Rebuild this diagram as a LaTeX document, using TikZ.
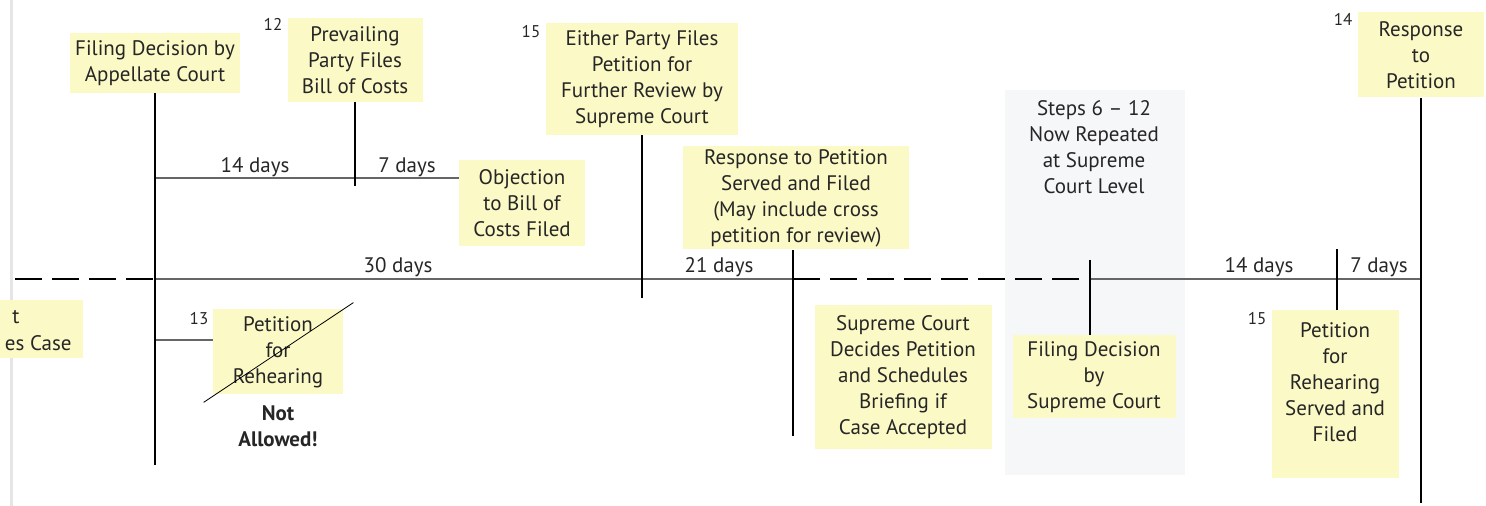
\documentclass[tikz,border=0pt]{standalone}
\usepackage{fontspec}
\setmainfont{PT Sans}
\usetikzlibrary{positioning}
\definecolor{notepad}{HTML}{FBF9C6}
\definecolor{panel}{HTML}{F6F7F9}
\definecolor{track}{HTML}{666666}
\newcommand{\textsz}{\fontsize{10.5}{13}\selectfont}

\begin{document}
\begin{tikzpicture}[x=0.5pt, y=-0.5pt,
  every node/.style={font=\textsz, text=black!85},
  note/.style={fill=notepad, align=center, inner sep=0pt},
  stepno/.style={font=\fontsize{8.5}{10}\selectfont},
  tick/.style={line width=1.4pt},
  track/.style={draw=track, line width=0.9pt},
  branch/.style={draw=track, line width=0.6pt},
  gap/.style={line width=1.4pt, dash pattern=on 13.5pt off 5pt}]
\useasboundingbox (0,0) rectangle (1486,506);
\draw[black!10, line width=1.5pt] (11,0) -- (11,506);
\fill[panel] (1005,90) rectangle (1185,475);

% appellate court level
\node[note, minimum width=41.5pt, minimum height=29pt] (trial) at (41.5,329) {};
\node[anchor=east, inner sep=0pt] (trialA) at (20,317) {t};
\node[anchor=east, inner sep=0pt] (trialB) at (72,343) {es Case};
\node[note, minimum width=85pt, minimum height=30pt] (fdac) at (155,63) {Filing Decision by\\Appellate Court};
\node[note, minimum width=67.5pt, minimum height=42pt] (bill) at (355,60) {Prevailing\\Party Files\\Bill of Costs};
\node[note, minimum width=63pt, minimum height=43pt] (objection) at (522,203) {Objection\\to Bill of\\Costs Filed};
\node[note, minimum width=65pt, minimum height=42.5pt] (rehear) at (278,352) {Petition\\for\\Rehearing};
\node[align=center, font=\textsz\bfseries] (denied) at (278,426) {Not\\Allowed!};
\node[note, minimum width=96pt, minimum height=56pt] (review) at (642,79) {Either Party Files\\Petition for\\Further Review by\\Supreme Court};
\node[note, minimum width=113pt, minimum height=51.5pt] (answer) at (796,198) {Response to Petition\\Served and Filed\\(May include cross\\petition for review)};
\node[note, minimum width=88.5pt, minimum height=72pt] (accept) at (903,377) {Supreme Court\\Decides Petition\\and Schedules\\Briefing if\\Case Accepted};

% supreme court level
\node[align=center] (repeat) at (1094,147) {Steps 6 -- 12\\Now Repeated\\at Supreme\\Court Level};
\node[note, minimum width=81.5pt, minimum height=41.5pt] (fdsc) at (1094,377) {Filing Decision\\by\\Supreme Court};
\node[note, minimum width=63.5pt, minimum height=84pt] (rehearsc) at (1335,394) {};
\node[align=center] (rehearscT) at (1335,382) {Petition\\for\\Rehearing\\Served and\\Filed};
\node[note, minimum width=63pt, minimum height=42.5pt] (reply) at (1421,55) {Response\\to\\Petition};

% step numbers
\node[stepno] (n12) at (273,24) {12};
\node[stepno] (n15a) at (531,32) {15};
\node[stepno] (n13) at (199,319) {13};
\node[stepno] (n15b) at (1257,319) {15};
\node[stepno] (n14) at (1343,19) {14};

% time line
\coordinate (t0) at (15,279);
\coordinate (t1) at (155,279);
\coordinate (t4) at (793,279);
\coordinate (t5) at (1090,279);
\coordinate (t7) at (1421,279);
\draw[gap] (t0) -- (t1);
\draw[track] (t1) -- (t4);
\draw[gap] (t4) -- (t5);
\draw[track] (t5) -- (t7);

\coordinate (b1) at (155,178);
\coordinate (b2) at (155,340);
\draw[branch] (b1) -- (b1 -| objection.west);
\draw[branch] (b2) -- (b2 -| rehear.west);
\draw[thin] ([shift={(-9,7.5)}]rehear.south west) -- ([shift={(10,-6.5)}]rehear.north east);

\coordinate (e1) at (155,465);
\coordinate (e2) at (355,186);
\coordinate (e3) at (642,298);
\coordinate (e4) at (793,436);
\coordinate (e5) at (1090,260);
\coordinate (e6) at (1337,249);
\coordinate (e7) at (1421,503);
\draw[tick] (fdac.south) -- (e1);
\draw[tick] (bill.south) -- (e2);
\draw[tick] (review.south) -- (e3);
\draw[tick] (answer.south -| t4) -- (e4);
\draw[tick] (e5) -- (fdsc.north -| t5);
\draw[tick] (e6) -- (rehearsc.north -| e6);
\draw[tick] (reply.south) -- (e7);

% day counts
\node (d14a) at (255,167) {14 days};
\node (d7a) at (407,167) {7 days};
\node (d30) at (398,267) {30 days};
\node (d21) at (719,267) {21 days};
\node (d14b) at (1259,267) {14 days};
\node (d7b) at (1379,267) {7 days};
\end{tikzpicture}
\end{document}
